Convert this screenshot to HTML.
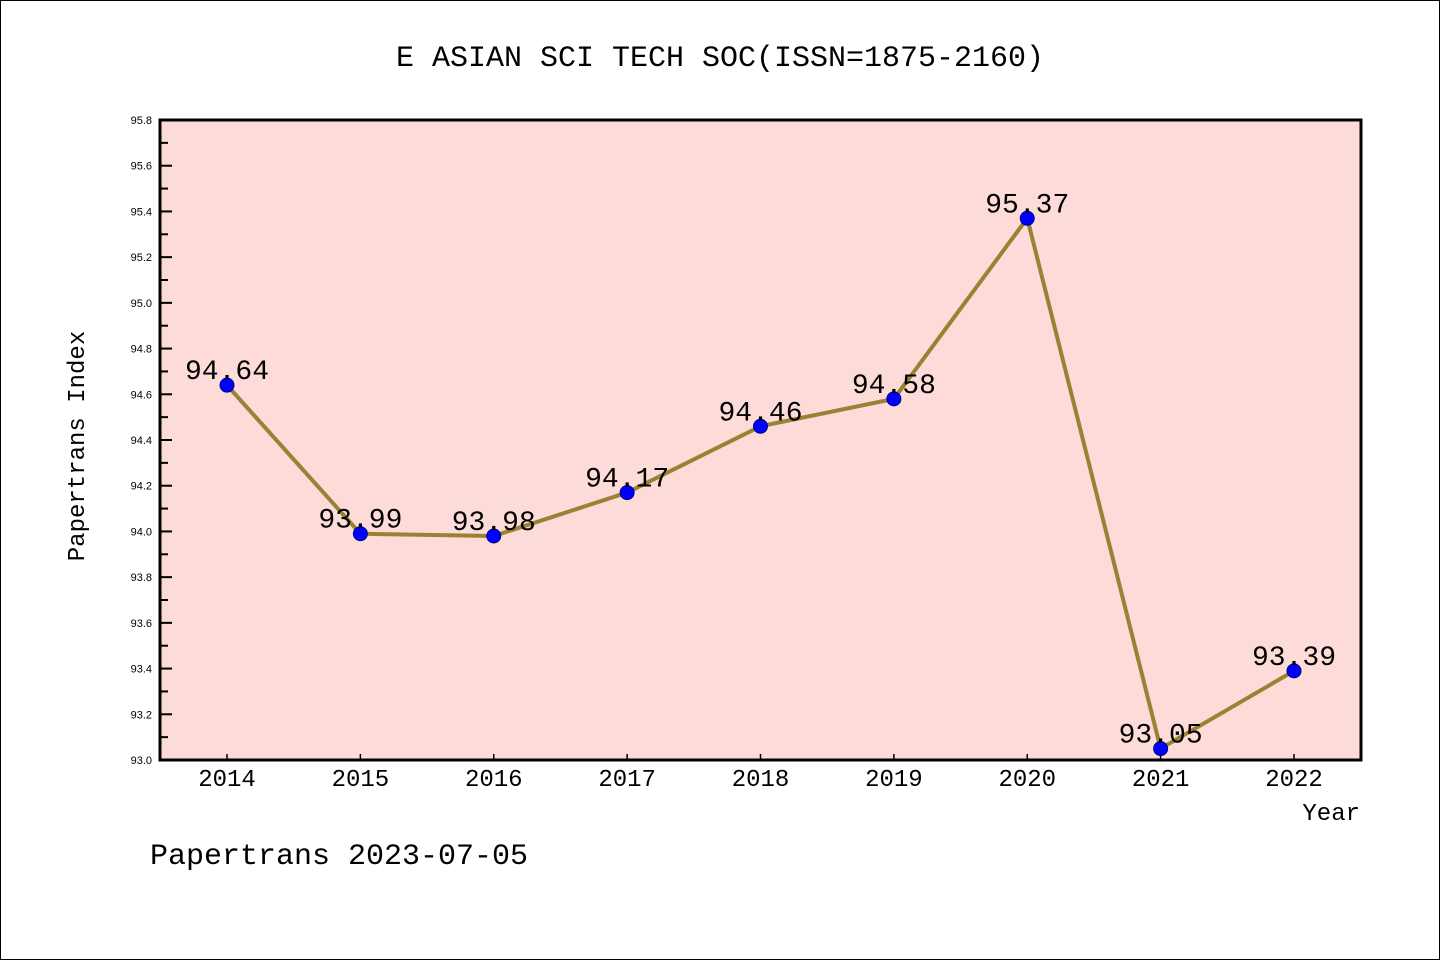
<!DOCTYPE html>
<html><head><meta charset="utf-8"><style>
html,body{margin:0;padding:0;background:#fff}
svg{display:block;font-family:"Liberation Mono","WenQuanYi Zen Hei",monospace}
</style></head><body>
<svg id="chart" width="1440" height="960">
<rect x="0.5" y="0.5" width="1439" height="959" fill="#fff" stroke="#000"/>
<text x="720" y="66" font-size="30" text-anchor="middle">E ASIAN SCI TECH SOC(ISSN=1875-2160)</text>
<rect x="160" y="120" width="1201" height="640" fill="#fddbd8"/>
<g id="axes"></g>
<g id="series"></g>
<rect x="160" y="120" width="1201" height="640" fill="none" stroke="#000" stroke-width="3"/>
<text x="84" y="446" font-size="24" text-anchor="middle" transform="rotate(-90 84 446)">Papertrans Index</text>
<text x="1360" y="820" font-size="24" text-anchor="end">Year</text>
<text x="150" y="864" font-size="30">Papertrans 2023-07-05</text>
</svg>
<script>
const years=["2014","2015","2016","2017","2018","2019","2020","2021","2022"];
const values=[94.64,93.99,93.98,94.17,94.46,94.58,95.37,93.05,93.39];
const yTicks=[93.0,93.2,93.4,93.6,93.8,94.0,94.2,94.4,94.6,94.8,95.0,95.2,95.4,95.6,95.8];
const NS="http://www.w3.org/2000/svg";
const yMin=93.0,yMax=95.8,plotTop=120,plotBot=760,plotLeft=160;
const sy=v=>plotBot-(v-yMin)/(yMax-yMin)*(plotBot-plotTop);
const sx=i=>227+i*(1294-227)/(years.length-1);
function mk(t,a,p){const e=document.createElementNS(NS,t);for(const k in a)e.setAttribute(k,a[k]);p.appendChild(e);return e;}
const ax=document.getElementById('axes'),se=document.getElementById('series');
yTicks.forEach((v,i)=>{
 const l=mk('line',{x1:plotLeft,x2:plotLeft+12,y1:sy(v),y2:sy(v),stroke:'#000','stroke-width':2},ax);
 
 
 const t=mk('text',{x:152,y:sy(v)+4,'font-size':11,'font-family':'Liberation Sans, sans-serif','text-anchor':'end'},ax);
 t.textContent=v.toFixed(1);
 
 
 if(i<yTicks.length-1){
  const m=mk('line',{x1:plotLeft,x2:plotLeft+8,y1:sy(v+0.1),y2:sy(v+0.1),stroke:'#000','stroke-width':2},ax);
  
  
 }
});
years.forEach((yr,i)=>{
 const l=mk('line',{x1:sx(i),x2:sx(i),y1:plotBot,y2:plotBot-6,stroke:'#000','stroke-width':1.5},ax);
 
 
 const t=mk('text',{x:sx(i),y:plotBot+26,'font-size':24,'text-anchor':'middle'},ax);
 t.textContent=yr;
 
 
});
const pl=mk('polyline',{points:values.map((v,i)=>sx(i)+','+sy(v)).join(' '),fill:'none',stroke:'#9a8235','stroke-width':4,'stroke-linejoin':'round'},se);


values.forEach((v,i)=>{
 const c=mk('circle',{cx:sx(i),cy:sy(v),r:7,fill:'#0000ff',stroke:'#00008b','stroke-width':1},se);
 
 
 const t=mk('text',{x:sx(i),y:sy(v)-6,'font-size':28,'text-anchor':'middle'},se);
 t.textContent=v.toFixed(2);
 
 
});
</script>
</body></html>
